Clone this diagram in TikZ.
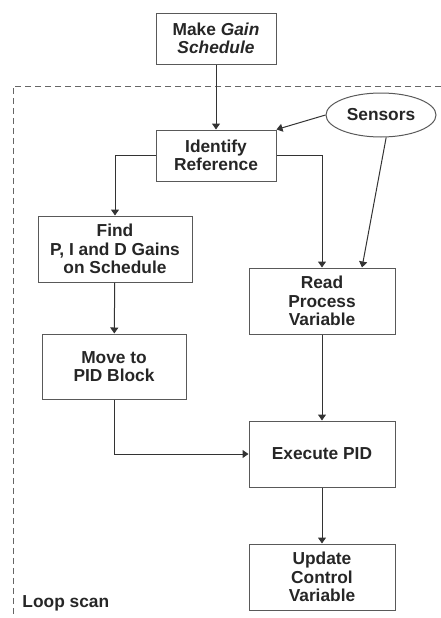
\documentclass[tikz,border=0pt]{standalone}
\usepackage{fontspec}
\setmainfont{Liberation Sans}
\usetikzlibrary{arrows.meta,shapes.geometric,calc}
\tikzset{
  box/.style={draw=black!65, line width=0.75pt, align=center, inner sep=0pt,
    font=\fontsize{13}{13.8}\selectfont\bfseries, text=black!85},
  conn/.style={draw=black!80, line width=0.75pt, -{Triangle[length=4.5pt,width=6pt]}},
}
\begin{document}
\begin{tikzpicture}[x=0.75pt,y=-0.75pt]
\useasboundingbox (0,0) rectangle (441,618);
% dashed loop-scan frame
\draw[black!60, line width=0.75pt, dash pattern=on 4.5pt off 3pt] (441,86) -- (13,86) -- (13,618);
\node[box, minimum width=90pt, minimum height=38.25pt] (make) at (216,38.5) {Make \textit{Gain}\\\textit{Schedule}};
\node[box, minimum width=90pt, minimum height=38.25pt] (ident) at (216,155.5) {Identify\\Reference};
\node[box, ellipse, minimum width=82.5pt, minimum height=33pt] (sens) at (381,115) {Sensors};
\node[box, minimum width=115.5pt, minimum height=49.5pt] (find) at (115,249) {Find\\P, I and D Gains\\on Schedule};
\node[box, minimum width=108pt, minimum height=48.75pt] (move) at (114,366.5) {Move to\\PID Block};
\node[box, minimum width=109.5pt, minimum height=49.5pt] (read) at (322,301) {Read\\Process\\Variable};
\node[box, minimum width=109.5pt, minimum height=49.5pt] (exec) at (322,454) {Execute PID};
\node[box, minimum width=109.5pt, minimum height=49.5pt] (upd) at (322,577) {Update\\Control\\Variable};
\node[box, draw=none, anchor=west] (loop) at (22,603) {Loop scan};
% connectors
\draw[conn] (make) -- (ident);
\draw[conn] (sens.west) -- (ident.north east);
\draw[conn] (ident.west) -| (find.north);
\draw[conn] (ident.east) -| (read.north);
\draw[conn] (sens.-77) -- ($(read.north)+(40,0)$);
\draw[conn] (find) -- (move);
\draw[conn] (read) -- (exec);
\draw[conn] (move.south) |- (exec.west);
\draw[conn] (exec) -- (upd);
\end{tikzpicture}
\end{document}
